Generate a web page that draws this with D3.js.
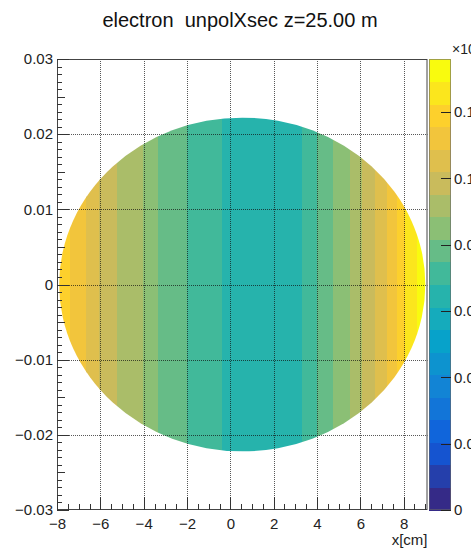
<!DOCTYPE html>
<html>
<head>
<meta charset="utf-8">
<script src="https://cdn.jsdelivr.net/npm/d3@7"></script>
<style>
  body { margin: 0; background: #fff; }
  svg { display: block; font-family: "Liberation Sans", Arial, sans-serif; }
</style>
</head>
<body>
<div id="root"></div>
<script>
// x band edges [cm] and the value in each band
const xEdges = [-8, -7.42, -6.64, -6.04, -5.25, -4.05, -3.36, -2.02, -0.40, 3.29, 3.98, 4.72, 5.51, 6.06, 6.67, 7.22, 7.68, 8.05, 8.61, 9.1]
const zValues = [0.119, 0.112, 0.105, 0.099, 0.092, 0.085, 0.078, 0.071, 0.065, 0.071, 0.078, 0.085, 0.092, 0.099, 0.105, 0.112, 0.119, 0.126, 0.133]

// beam spot (ellipse in data units)
const spotCenter = [0.55, 0]
const spotRadius = [8.45, 0.0222]

const xTicks = [-8, -6, -4, -2, 0, 2, 4, 6, 8]
const yTicks = [-0.03, -0.02, -0.01, 0, 0.01, 0.02, 0.03]
const zTicks = [0, 0.02, 0.04, 0.06, 0.08, 0.1, 0.12]
const zTickLabels = ["0", "0.02", "0.04", "0.06", "0.08", "0.1", "0.12"]
const nLevels = 20
const zMax = 0.136

// ROOT kBird palette stops
const birdStops = [0, 0.125, 0.25, 0.375, 0.5, 0.625, 0.75, 0.875, 1]
const birdRed = [0.2082, 0.0592, 0.0780, 0.0232, 0.1802, 0.5301, 0.8186, 0.9956, 0.9764]
const birdGreen = [0.1664, 0.3599, 0.5041, 0.6419, 0.7178, 0.7492, 0.7328, 0.7862, 0.9832]
const birdBlue = [0.5293, 0.8684, 0.8385, 0.7914, 0.6425, 0.4662, 0.3499, 0.1968, 0.0539]

const W = 471, H = 549
const frame = { left: 57, right: 427.5, top: 59, bottom: 510 }
const bar = { left: 429, right: 451 }
const fs = 15

const bird = d3.scaleLinear()
    .domain(birdStops)
    .range(birdStops.map((s, i) => d3.rgb(birdRed[i] * 255, birdGreen[i] * 255, birdBlue[i] * 255)))
    .interpolate(d3.interpolateRgb)

const levelOf = v => Math.min(nLevels - 1, Math.floor(v / zMax * nLevels))
const colorOf = v => bird(levelOf(v) / (nLevels - 1))

const x = d3.scaleLinear().domain([-8, 9.1]).range([frame.left, frame.right])
const y = d3.scaleLinear().domain([-0.03, 0.03]).range([frame.bottom, frame.top])
const z = d3.scaleLinear().domain([0, zMax]).range([frame.bottom, frame.top])

const svg = d3.select("#root")
    .append("svg")
    .attr("width", W)
    .attr("height", H)

svg.append("text")
    .attr("x", 240)
    .attr("y", 27)
    .attr("text-anchor", "middle")
    .attr("font-size", 20)
    .attr("fill", "#111")
    .style("white-space", "pre")
    .text("electron  unpolXsec z=25.00 m")

svg.append("defs").append("clipPath")
    .attr("id", "spot")
    .append("ellipse")
    .attr("cx", x(spotCenter[0]))
    .attr("cy", y(spotCenter[1]))
    .attr("rx", x(spotCenter[0] + spotRadius[0]) - x(spotCenter[0]))
    .attr("ry", y(spotCenter[1]) - y(spotCenter[1] + spotRadius[1]))

// coloured bands
svg.append("g")
    .attr("clip-path", "url(#spot)")
    .selectAll("rect")
    .data(zValues)
    .enter()
    .append("rect")
    .attr("x", (d, i) => x(xEdges[i]))
    .attr("width", (d, i) => x(xEdges[i + 1]) - x(xEdges[i]) + 0.5)
    .attr("y", frame.top)
    .attr("height", frame.bottom - frame.top)
    .attr("fill", d => colorOf(d))
    .attr("shape-rendering", "crispEdges")

// grid
const grid = svg.append("g")
    .attr("stroke", "#111")
    .attr("stroke-opacity", 0.7)
    .attr("stroke-dasharray", "1,1")
grid.selectAll("line.gx")
    .data(xTicks.filter(t => t > -8))
    .enter().append("line")
    .attr("x1", d => Math.round(x(d)) + 0.5).attr("x2", d => Math.round(x(d)) + 0.5)
    .attr("y1", frame.top).attr("y2", frame.bottom)
grid.selectAll("line.gy")
    .data(yTicks.slice(1, -1))
    .enter().append("line")
    .attr("y1", d => Math.round(y(d)) + 0.5).attr("y2", d => Math.round(y(d)) + 0.5)
    .attr("x1", frame.left).attr("x2", frame.right)

// frame
svg.append("rect")
    .attr("x", frame.left + 0.5)
    .attr("y", frame.top + 0.5)
    .attr("width", frame.right - frame.left - 1)
    .attr("height", frame.bottom - frame.top - 1)
    .attr("fill", "none")
    .attr("stroke", "#444")

// axes
const xAxis = d3.axisBottom(x).tickValues(xTicks).tickSize(0).tickFormat(d => d3.format("")(d).replace("-", "\u2212"))
svg.append("g")
    .attr("transform", `translate(0,${frame.bottom})`)
    .call(xAxis)
    .call(g => g.select(".domain").remove())
    .call(g => g.selectAll("text").attr("font-size", fs).attr("fill", "#222").attr("dy", 0).attr("y", 19).attr("font-family", "Liberation Sans"))

const yAxis = d3.axisLeft(y).tickValues(yTicks).tickSize(0).tickFormat(d => d === 0 ? "0" : d3.format(".2f")(d).replace("-", "\u2212"))
svg.append("g")
    .attr("transform", `translate(${frame.left},0)`)
    .call(yAxis)
    .call(g => g.select(".domain").remove())
    .call(g => g.selectAll("text").attr("font-size", fs).attr("fill", "#222").attr("x", -4).attr("font-family", "Liberation Sans"))

// tick marks
const ticks = svg.append("g").attr("stroke", "#333").attr("stroke-width", 1)
const xMinor = d3.range(-8, 9.1, 0.5)
ticks.selectAll("line.tx")
    .data(xMinor)
    .enter().append("line")
    .attr("x1", d => Math.round(x(d)) + 0.5).attr("x2", d => Math.round(x(d)) + 0.5)
    .attr("y1", frame.bottom)
    .attr("y2", d => frame.bottom - (Math.abs(d % 2) < 1e-9 ? 13 : 6))
const yMinor = d3.range(-30, 31, 1)
ticks.selectAll("line.ty")
    .data(yMinor)
    .enter().append("line")
    .attr("y1", d => Math.round(y(d / 1000)) + 0.5).attr("y2", d => Math.round(y(d / 1000)) + 0.5)
    .attr("x1", frame.left)
    .attr("x2", d => frame.left + (d % 10 === 0 ? 12 : (d % 5 === 0 ? 8 : 5)))

svg.append("text")
    .attr("x", frame.right)
    .attr("y", 545)
    .attr("text-anchor", "end")
    .attr("font-size", fs)
    .attr("fill", "#222")
    .text("x[cm]")

// colour bar
svg.append("g")
    .selectAll("rect")
    .data(d3.range(nLevels))
    .enter().append("rect")
    .attr("x", bar.left)
    .attr("width", bar.right - bar.left)
    .attr("y", d => z((d + 1) * zMax / nLevels))
    .attr("height", d => z(d * zMax / nLevels) - z((d + 1) * zMax / nLevels) + 0.5)
    .attr("fill", d => bird(d / (nLevels - 1)))
    .attr("shape-rendering", "crispEdges")

svg.append("rect")
    .attr("x", bar.left + 0.5)
    .attr("y", frame.top + 0.5)
    .attr("width", bar.right - bar.left - 1)
    .attr("height", frame.bottom - frame.top - 1)
    .attr("fill", "none")
    .attr("stroke", "#666")
    .attr("stroke-opacity", 0.6)

const zAxis = d3.axisRight(z).tickValues(zTicks).tickSize(0).tickFormat((d, i) => zTickLabels[i])
svg.append("g")
    .attr("transform", `translate(${bar.right},0)`)
    .call(zAxis)
    .call(g => g.select(".domain").remove())
    .call(g => g.selectAll("text").attr("font-size", fs).attr("fill", "#222").attr("x", 3).attr("font-family", "Liberation Sans"))

svg.append("g")
    .attr("stroke", "#222")
    .selectAll("line")
    .data(zTicks)
    .enter().append("line")
    .attr("x1", bar.right - 10).attr("x2", bar.right)
    .attr("y1", d => Math.round(z(d)) + 0.5).attr("y2", d => Math.round(z(d)) + 0.5)

svg.append("text")
    .attr("x", 452)
    .attr("y", 54)
    .attr("font-size", 14)
    .attr("fill", "#222")
    .text("\u00d710")
    .append("tspan")
    .attr("dy", -6)
    .attr("font-size", 10)
    .text("\u22123")
</script>
</body>
</html>
